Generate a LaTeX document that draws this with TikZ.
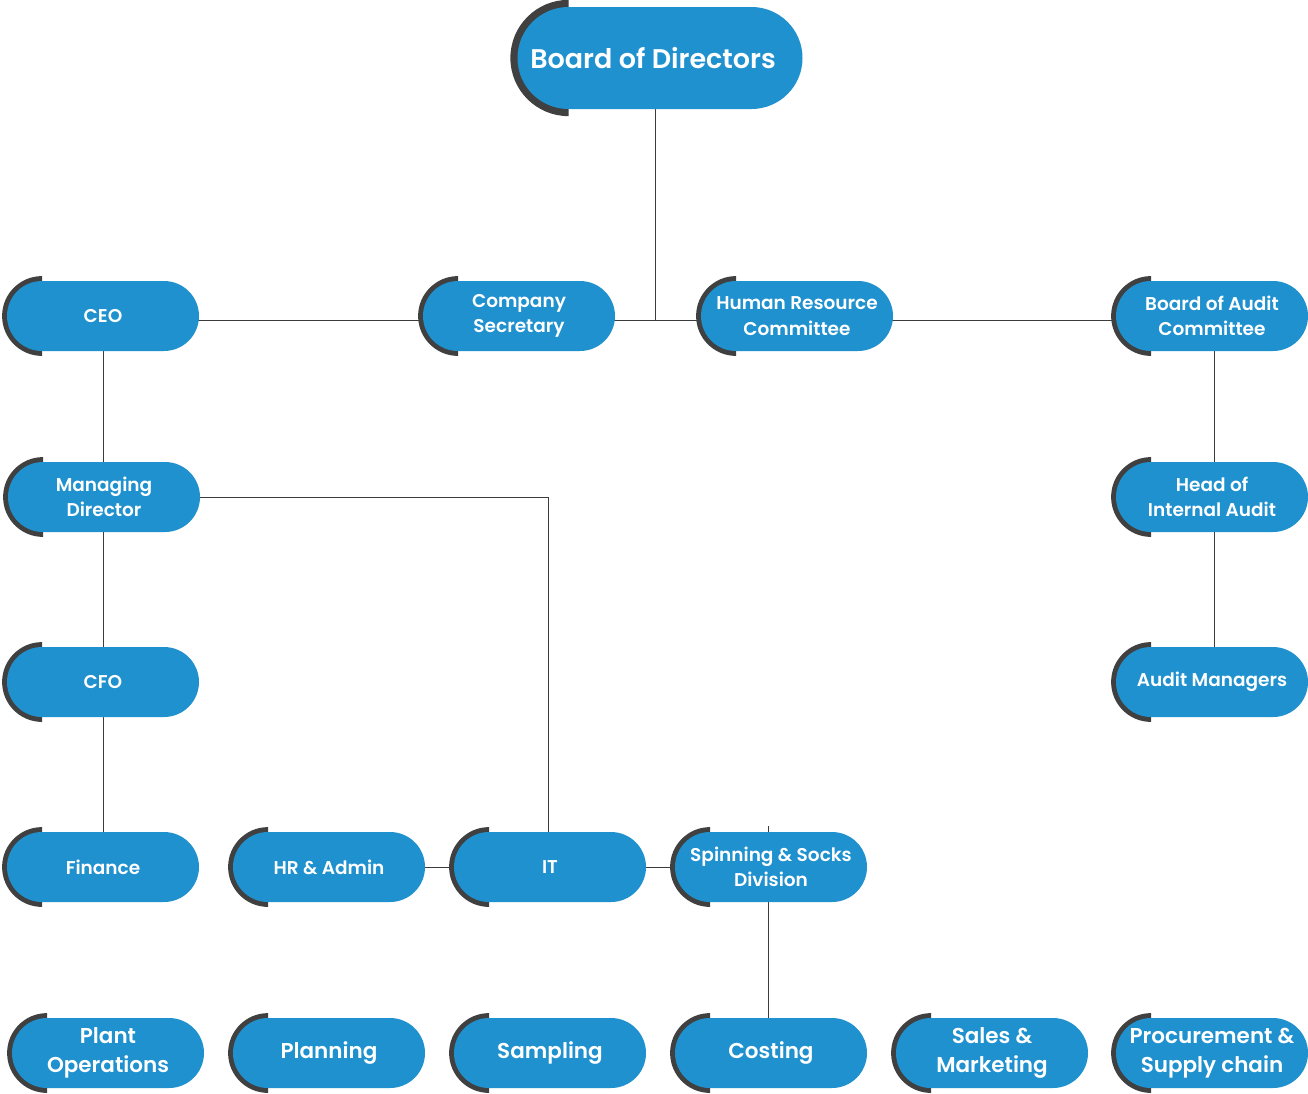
\documentclass[tikz,border=0pt]{standalone}
\usepackage{fontspec}
\setmainfont{Poppins}[BoldFont={Poppins SemiBold}]
\usetikzlibrary{shapes.misc,calc}
\definecolor{pillblue}{HTML}{1F91CF}
\definecolor{arcgray}{HTML}{404040}
\definecolor{linegray}{HTML}{3C3C3C}
\pgfdeclarelayer{back}
\pgfdeclarelayer{bg}
\pgfsetlayers{back,bg,main}
\tikzset{
  pill/.style={rounded rectangle, fill=pillblue, draw=none, text=white, inner sep=0pt, align=center},
  conn/.style={draw=linegray, line width=1pt},
  small/.style={font=\fontsize{18.5}{25.5}\selectfont\bfseries},
  big/.style={font=\fontsize{21.5}{29}\selectfont\bfseries},
  huge/.style={font=\fontsize{27}{32}\selectfont\bfseries}
}
\newcommand\pill[7]{%
  \fill[arcgray] ({#2-#4/2+#5/2},{-#3}) ++(0,{0.57*#5}) arc[start angle=90,end angle=270,radius={0.57*#5}] -- cycle;
  \node[pill,minimum width=#4,minimum height=#5,#6] (#1) at (#2,-#3) {#7};
}
\begin{document}
\begin{tikzpicture}[x=1pt,y=1pt]
\begin{pgfonlayer}{back}
\fill[white] (0,0) rectangle (1308,-1093);
\end{pgfonlayer}
\useasboundingbox (0,0) rectangle (1308,-1093);
\pill{bod}{660}{58}{285}{102}{huge}{Board of Directors\hspace*{14pt}}
\pill{ceo}{103}{316}{192}{70}{small}{CEO}
\pill{cs}{519}{316}{192}{70}{small}{Company\\Secretary}
\pill{hrc}{797}{316}{192}{70}{small}{Human Resource\\Committee}
\pill{bac}{1212}{316}{192}{70}{small}{Board of Audit\\Committee}
\pill{md}{104}{497}{192}{70}{small}{Managing\\Director}
\pill{hia}{1212}{497}{192}{70}{small}{Head of\\Internal Audit}
\pill{cfo}{103}{682}{192}{70}{small}{CFO}
\pill{am}{1212}{682}{192}{70}{small}{Audit Managers}
\pill{fin}{103}{867}{192}{70}{small}{Finance}
\pill{hra}{329}{867}{192}{70}{small}{HR \& Admin}
\pill{it}{550}{867}{192}{70}{small}{IT}
\pill{ssd}{771}{867}{192}{70}{small}{Spinning \& Socks\\Division}
\pill{plant}{108}{1053}{192}{70}{big}{Plant\\Operations}
\pill{plan}{329}{1053}{192}{70}{big}{Planning}
\pill{samp}{550}{1053}{192}{70}{big}{Sampling}
\pill{cost}{771}{1053}{192}{70}{big}{Costing}
\pill{sales}{992}{1053}{192}{70}{big}{Sales \&\\Marketing}
\pill{proc}{1212}{1053}{192}{70}{big}{Procurement \&\\Supply chain}
\coordinate (j1) at (655,-320);
\coordinate (stub) at (768,-826);
\begin{pgfonlayer}{bg}
\draw[conn] ([xshift=-5pt]bod.center) -- (j1);
\draw[conn] ([yshift=-4pt]ceo.center) -- ([yshift=-4pt]cs.center);
\draw[conn] ([yshift=-4pt]cs.center) -- ([yshift=-4pt]hrc.center);
\draw[conn] ([yshift=-4pt]hrc.center) -- ([yshift=-4pt]bac.center);
\draw[conn] (ceo.center) -- (ceo.center |- md.center);
\draw[conn] (ceo.center |- md.center) -- (cfo.center);
\draw[conn] (cfo.center) -- (fin.center);
\draw[conn] (md.center) -| ([xshift=-2pt]it.center);
\draw[conn] (hra.center) -- (it.center);
\draw[conn] (it.center) -- (ssd.center);
\draw[conn] (stub) -- (stub |- cost.center);
\draw[conn] ([xshift=2pt]bac.center) -- ([xshift=2pt]hia.center);
\draw[conn] ([xshift=2pt]hia.center) -- ([xshift=2pt]am.center);
\end{pgfonlayer}
\end{tikzpicture}
\end{document}
